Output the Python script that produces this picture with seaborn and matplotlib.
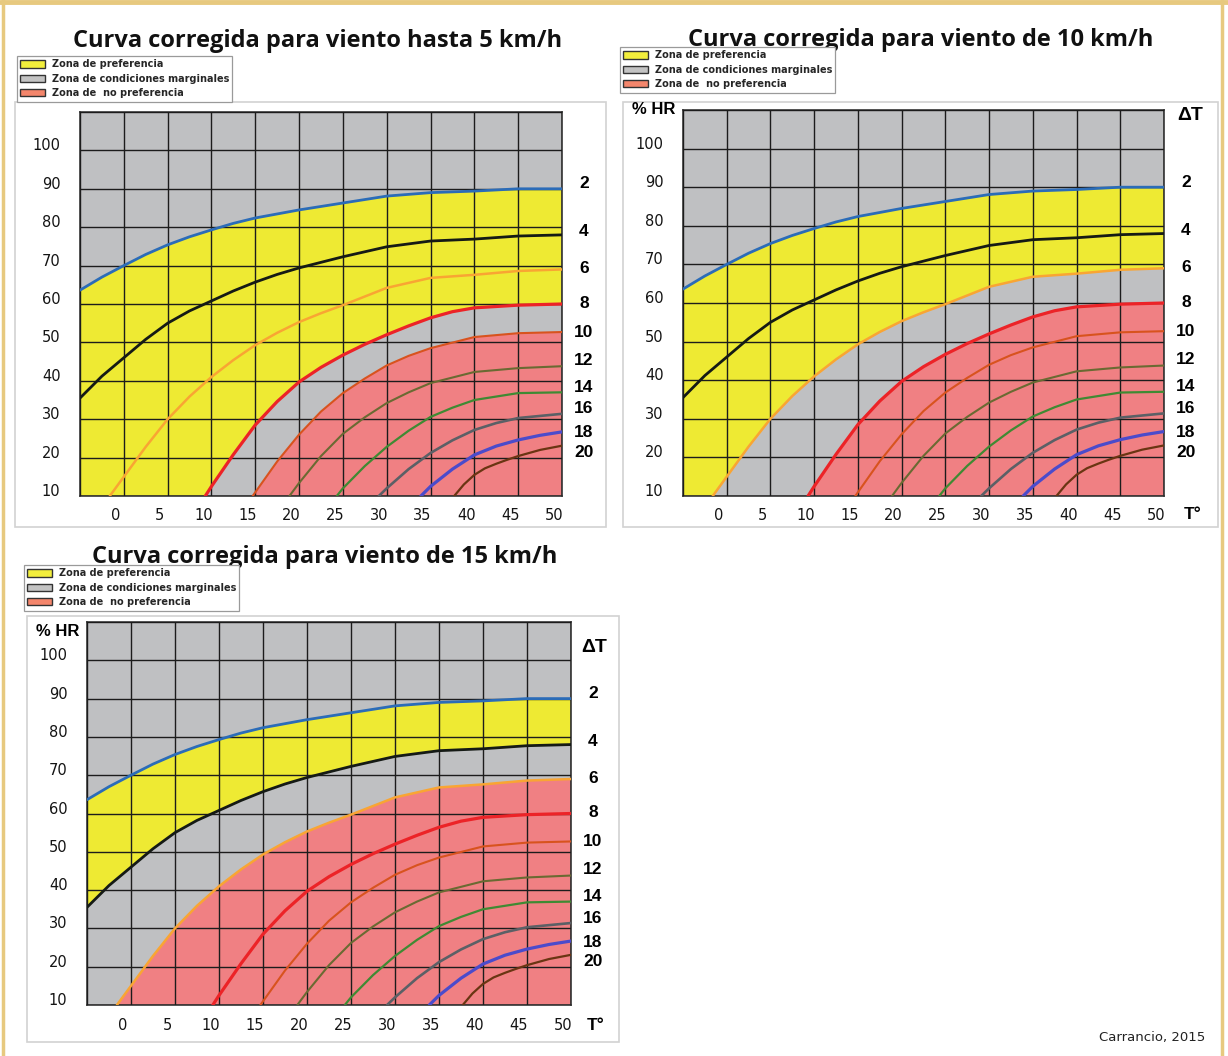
import numpy as np
import pandas as pd
import matplotlib
matplotlib.use("Agg")
import matplotlib.pyplot as plt
import seaborn as sns
from matplotlib.patches import Patch, Rectangle
from matplotlib.lines import Line2D
from matplotlib.transforms import ScaledTranslation

# ---------------------------------------------------------------------------
# ΔT curves: temperature (ºC) vs relative humidity (%)
# ---------------------------------------------------------------------------
dt_levels = [2, 4, 6, 8, 10, 12, 14, 16, 18, 20]

t_dt2 = [-5, -2.5, 0, 2.5, 5, 7.5, 10, 12.5, 15, 20, 25, 30, 35, 40, 45, 50]
hr_dt2 = [63.6, 67.0, 70.0, 72.9, 75.4, 77.5, 79.3, 81.0, 82.4, 84.5, 86.3, 88.1, 89.0, 89.4, 90.0, 90.0]

t_dt4 = [-5, -2.5, 0, 2.5, 5, 7.5, 10, 12.5, 15, 17.5, 20, 25, 30, 35, 40, 45, 50]
hr_dt4 = [35.5, 41.2, 46.0, 50.8, 55.0, 58.2, 60.8, 63.4, 65.7, 67.7, 69.4, 72.3, 74.9, 76.4, 76.9, 77.7, 78.0]

t_dt6 = [-1.6, 0, 2.5, 5, 7.5, 10, 12.5, 15, 17.5, 20, 22.5, 25, 30, 35, 40, 45, 50]
hr_dt6 = [10.0, 15.0, 22.8, 30.0, 35.9, 41.0, 45.4, 49.3, 52.5, 55.3, 57.6, 59.7, 64.2, 66.8, 67.6, 68.6, 69.0]

t_dt8 = [9.3, 10, 12.5, 15, 17.5, 20, 22.5, 25, 27.5, 30, 32.5, 35, 37.5, 40, 45, 50]
hr_dt8 = [10.0, 12.5, 20.8, 28.5, 34.6, 39.7, 43.5, 46.7, 49.5, 52.0, 54.3, 56.4, 58.0, 59.0, 59.7, 60.0]

t_dt10 = [14.7, 17.5, 20, 22.5, 25, 27.5, 30, 32.5, 35, 40, 45, 50]
hr_dt10 = [10.0, 19.0, 26.0, 32.0, 36.8, 40.6, 44.0, 46.5, 48.5, 51.4, 52.4, 52.7]

t_dt12 = [18.9, 20, 22.5, 25, 27.5, 30, 32.5, 35, 40, 45, 50]
hr_dt12 = [10.0, 13.4, 20.4, 26.2, 30.5, 34.2, 37.0, 39.4, 42.3, 43.3, 43.8]

t_dt14 = [24.3, 25, 27.5, 30, 32.5, 35, 37.5, 40, 45, 50]
hr_dt14 = [10.0, 12.0, 17.8, 22.8, 27.0, 30.6, 33.0, 35.0, 36.8, 37.0]

t_dt16 = [29.1, 30, 32.5, 35, 37.5, 40, 42.5, 45, 50]
hr_dt16 = [10.0, 12.0, 17.0, 21.2, 24.5, 27.2, 29.0, 30.3, 31.4]

t_dt18 = [33.9, 35, 37.5, 40, 42.5, 45, 47.5, 50]
hr_dt18 = [10.0, 12.5, 17.0, 20.7, 23.0, 24.6, 25.8, 26.7]

t_dt20 = [37.7, 38.8, 40, 41.2, 42.5, 43.7, 45, 47.5, 50]
hr_dt20 = [10.0, 13.0, 15.5, 17.2, 18.4, 19.4, 20.4, 22.0, 23.1]

curves_t = [t_dt2, t_dt4, t_dt6, t_dt8, t_dt10, t_dt12, t_dt14, t_dt16, t_dt18, t_dt20]
curves_hr = [hr_dt2, hr_dt4, hr_dt6, hr_dt8, hr_dt10, hr_dt12, hr_dt14, hr_dt16, hr_dt18, hr_dt20]

# axis ticks
x_ticks = [0, 5, 10, 15, 20, 25, 30, 35, 40, 45, 50]
y_ticks = [10, 20, 30, 40, 50, 60, 70, 80, 90, 100]

# panels: wind speed, lower ΔT bound of the preference zone, upper ΔT bound of the non-preference zone
titles = ["Curva corregida para viento hasta 5 km/h",
          "Curva corregida para viento de 10 km/h",
          "Curva corregida para viento de 15 km/h"]
pref_lower_dt = [8, 6, 4]
nopref_upper_dt = [10, 8, 6]

zone_labels = ["Zona de preferencia", "Zona de condiciones marginales", "Zona de  no preferencia"]

# ---------------------------------------------------------------------------
# styling
# ---------------------------------------------------------------------------
sns.set_style("white")
plt.rcParams["font.family"] = ["DejaVu Sans"]

GRAY = "#BFC0C2"
YELLOW = "#EEEA33"
PINK = "#F08083"
LEG_YELLOW = "#F2EE3C"
LEG_GRAY = "#C3C3C3"
LEG_SALMON = "#F4866C"
TAN = "#E7C97F"

curve_colors = {2: "#2B6CB8", 4: "#151a15", 6: "#F9A533", 8: "#EC2327", 10: "#D8531E",
                12: "#6A6A32", 14: "#3F8A33", 16: "#5B6066", 18: "#4B4BCB", 20: "#6A3512"}
curve_widths = {2: 2.0, 4: 2.0, 6: 1.8, 8: 2.3, 10: 1.5, 12: 1.5, 14: 1.6, 16: 1.9, 18: 2.3, 20: 1.6}
# vertical nudge (pixels, up positive) of the ΔT labels so they do not collide
label_nudge = {2: 5, 4: 3, 6: 1, 8: 1, 10: 0, 12: 6, 14: 5, 16: 5, 18: -1, 20: -7}

W, H = 1228, 1056
fig = plt.figure(figsize=(W / 100, H / 100), dpi=100)
fig.patch.set_facecolor("white")


def fig_box(left, top, right, bottom):
    return [left / W, 1 - bottom / H, (right - left) / W, (bottom - top) / H]


XMIN, XMAX = -5, 50
YMIN, YMAX = 10, 110

rows = []
for dt, ts, hs in zip(dt_levels, curves_t, curves_hr):
    for t, h in zip(ts, hs):
        rows.append({"dT": dt, "T": t, "HR": h})
curves_df = pd.DataFrame(rows)
curve_of = {dt: (np.array(ts), np.array(hs)) for dt, ts, hs in zip(dt_levels, curves_t, curves_hr)}

panels = [
    dict(axbox=(80, 112, 562, 496), title_xy=(318, 47), legend_xy=(17, 56),
         frame=(15, 102, 606, 527), hr=None, dT=None, To=None),
    dict(axbox=(683, 110, 1164, 496), title_xy=(921, 46), legend_xy=(620, 47),
         frame=(623, 102, 1218, 527), hr=(654, 110), dT=(1190, 115), To=(1193, 514)),
    dict(axbox=(87, 622, 571, 1005), title_xy=(325, 563), legend_xy=(24, 565),
         frame=(27, 616, 619, 1042), hr=(58, 632), dT=(594, 647), To=(596, 1025)),
]

bold_label = dict(fontweight="bold", family=["Liberation Sans", "DejaVu Sans"], color="black")

for i, p in enumerate(panels):
    l, t, r, b = p["axbox"]
    ax = fig.add_axes(fig_box(l, t, r, b))
    ax.set_facecolor(GRAY)

    # preference zone: between ΔT=2 and the lower bounding curve
    up_t, up_h = curve_of[2]
    lo_t, lo_h = curve_of[pref_lower_dt[i]]
    poly = list(zip(up_t, up_h)) + list(zip(lo_t[::-1], lo_h[::-1]))
    if lo_t[0] > XMIN:
        poly.append((XMIN, YMIN))
    ax.fill(*zip(*poly), color=YELLOW, lw=0, zorder=1)

    # non-preference zone: below the bounding curve
    np_t, np_h = curve_of[nopref_upper_dt[i]]
    poly = list(zip(np_t, np_h)) + [(XMAX, YMIN)]
    ax.fill(*zip(*poly), color=PINK, lw=0, zorder=1)

    sns.lineplot(data=curves_df, x="T", y="HR", hue="dT", palette=curve_colors,
                 size="dT", sizes=curve_widths, estimator=None, sort=False,
                 legend=False, ax=ax, zorder=3)

    ax.set_xlim(XMIN, XMAX)
    ax.set_ylim(YMIN, YMAX)
    ax.set_xticks(np.arange(XMIN, XMAX + 1, 5))
    ax.set_xticklabels([""] + [str(v) for v in x_ticks])
    ax.set_yticks(np.arange(YMIN, YMAX + 1, 10))
    ax.set_yticklabels([str(v) for v in y_ticks] + [""])
    ax.set_xlabel("")
    ax.set_ylabel("")
    ax.grid(True, color="#1c1c1c", lw=1.0)
    ax.set_axisbelow(False)
    ax.tick_params(length=0, labelsize=10.5, labelcolor="#141414")
    ax.tick_params(axis="x", pad=9)
    ax.tick_params(axis="y", pad=14)
    for lab in ax.get_xticklabels():
        lab.set_transform(lab.get_transform() + ScaledTranslation(-8 / 100, 0, fig.dpi_scale_trans))
    for lab in ax.get_yticklabels():
        lab.set_transform(lab.get_transform() + ScaledTranslation(0, 6 / 100, fig.dpi_scale_trans))
    for s in ax.spines.values():
        s.set_color("#333333")
        s.set_linewidth(1.2)

    # ΔT labels at the end of each curve
    for dt in dt_levels:
        ax.annotate(str(dt), xy=(1, curve_of[dt][1][-1]), xycoords=("axes fraction", "data"),
                    xytext=(15.8, label_nudge[dt] * 0.72), textcoords="offset points",
                    ha="center", va="center", fontsize=12.5, annotation_clip=False, **bold_label)

    # title
    fig.text(p["title_xy"][0] / W, 1 - p["title_xy"][1] / H, titles[i], ha="center",
             va="baseline", fontsize=17, fontweight="bold", color="#111111",
             family=["Open Sans", "DejaVu Sans"])

    # legend
    handles = [Patch(facecolor=LEG_YELLOW, edgecolor="#333333", lw=1),
               Patch(facecolor=LEG_GRAY, edgecolor="#333333", lw=1),
               Patch(facecolor=LEG_SALMON, edgecolor="#333333", lw=1)]
    lx, ly = p["legend_xy"]
    leg = fig.legend(handles, zone_labels, loc="upper left",
                     bbox_to_anchor=(lx / W, 1 - ly / H), bbox_transform=fig.transFigure,
                     borderaxespad=0, fancybox=False, framealpha=1, edgecolor="#9a9a9a",
                     prop=dict(size=7, weight="bold"), handlelength=2.5, handleheight=0.8,
                     handletextpad=0.7, labelspacing=0.45, borderpad=0.35)
    leg.get_frame().set_linewidth(0.9)
    leg.set_zorder(10)

    # panel frame
    fl, ft, fr, fb = p["frame"]
    fig.add_artist(Rectangle((fl / W, 1 - fb / H), (fr - fl) / W, (fb - ft) / H,
                             transform=fig.transFigure, fill=False, edgecolor="#d2d2d2",
                             lw=1.2, zorder=0.5))

    if p["hr"] is not None:
        fig.text(p["hr"][0] / W, 1 - p["hr"][1] / H, "% HR", ha="center", va="center",
                 fontsize=12, **bold_label)
        fig.text(p["dT"][0] / W, 1 - p["dT"][1] / H, "ΔT", ha="center", va="center",
                 fontsize=14, **bold_label)
        fig.text(p["To"][0] / W, 1 - p["To"][1] / H, "T°", ha="center", va="center",
                 fontsize=12.5, **bold_label)

fig.text(1205 / W, 1 - 1037 / H, "Carrancio, 2015", ha="right", va="center", fontsize=9.5,
         family=["Liberation Sans Narrow", "DejaVu Sans"], color="#222222")

# page border
fig.add_artist(Line2D([0, 1], [1 - 2 / H, 1 - 2 / H], transform=fig.transFigure, color=TAN, lw=3.5))
fig.add_artist(Line2D([3 / W, 3 / W], [0, 1], transform=fig.transFigure, color=TAN, lw=2.5))
fig.add_artist(Line2D([1222 / W, 1222 / W], [0, 1], transform=fig.transFigure, color=TAN, lw=2.5))

fig.savefig("out.png", dpi=100, facecolor="white")
